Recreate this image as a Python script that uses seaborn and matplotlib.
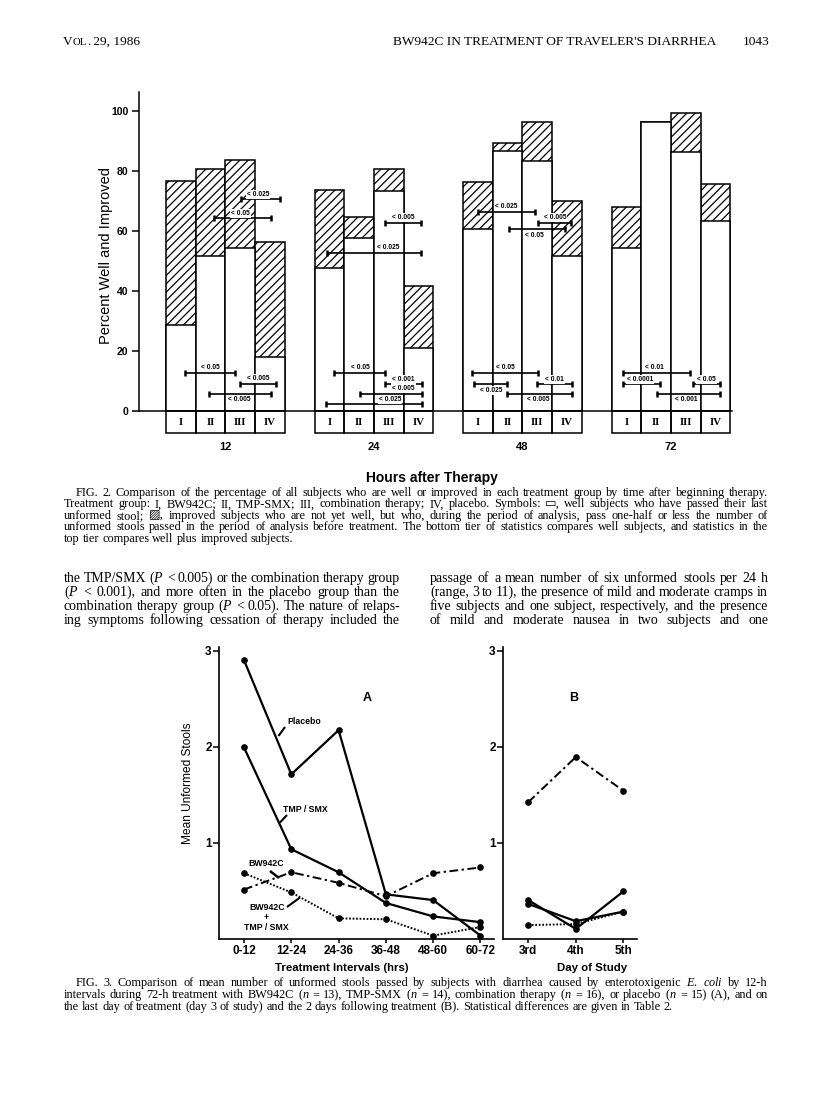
import matplotlib
matplotlib.use('Agg')
import numpy as np
import pandas as pd
import matplotlib.pyplot as plt
import seaborn as sns
from matplotlib.transforms import IdentityTransform
from matplotlib.patches import Rectangle
from matplotlib.lines import Line2D

# ---------------- data: Fig. 2 ----------------
hours = ['12', '24', '48', '72']
groups = ['I', 'II', 'III', 'IV']
well_improved_12 = [76.7, 80.5, 83.6, 56.4]
well_improved_24 = [73.8, 64.6, 80.5, 41.7]
well_improved_48 = [76.3, 89.4, 96.3, 70.0]
well_improved_72 = [67.9, 96.2, 99.4, 75.5]
well_12 = [28.6, 51.7, 54.4, 18.0]
well_24 = [47.7, 57.8, 73.3, 21.1]
well_48 = [60.6, 86.7, 83.4, 51.7]
well_72 = [54.4, 96.2, 86.2, 63.4]
pct_ticks = [0, 20, 40, 60, 80, 100]

# significance brackets: (from, to, level %, label, label position, above?)  x in bar units within group
sig_12 = [(2.02, 3.34, 70.5, '< 0.025', 2.60, True), (1.12, 3.03, 64.2, '< 0.05', 2.01, True),
          (0.13, 1.82, 12.7, '< 0.05', 0.98, True), (1.99, 3.20, 9.1, '< 0.005', 2.60, True),
          (0.94, 3.03, 5.6, '< 0.005', 1.96, False)]
sig_24 = [(1.88, 3.10, 62.7, '< 0.005', 2.49, True), (-0.07, 3.10, 52.8, '< 0.025', 1.98, True),
          (0.16, 1.89, 12.7, '< 0.05', 1.03, True), (1.89, 3.12, 8.9, '< 0.001', 2.49, True),
          (1.03, 3.12, 5.6, '< 0.005', 2.49, True), (-0.12, 3.12, 2.2, '< 0.025', 2.04, True)]
sig_48 = [(0.01, 1.92, 66.4, '< 0.025', 0.94, True), (2.03, 3.15, 62.7, '< 0.005', 2.59, True),
          (1.05, 2.95, 60.5, '< 0.05', 1.92, False), (-0.19, 2.03, 12.7, '< 0.05', 0.94, True),
          (2.00, 3.18, 8.9, '< 0.01', 2.59, True), (-0.12, 0.99, 8.9, '< 0.025', 0.44, False),
          (0.97, 3.18, 5.6, '< 0.005', 2.03, False)]
sig_72 = [(-0.11, 2.14, 12.7, '< 0.01', 0.96, True), (-0.11, 1.13, 8.9, '< 0.0001', 0.45, True),
          (2.25, 3.15, 8.9, '< 0.05', 2.70, True), (1.04, 3.15, 5.6, '< 0.001', 2.03, False)]

# ---------------- data: Fig. 3 ----------------
intervals = ['0-12', '12-24', '24-36', '36-48', '48-60', '60-72']
days = ['3rd', '4th', '5th']
placebo_A = [2.90, 1.71, 2.17, 0.46, 0.40, 0.03]
tmpsmx_A = [1.99, 0.93, 0.69, 0.37, 0.23, 0.17]
bw942c_A = [0.51, 0.69, 0.58, 0.44, 0.68, 0.74]
combo_A = [0.68, 0.48, 0.21, 0.20, 0.03, 0.12]
placebo_B = [0.40, 0.10, 0.49]
tmpsmx_B = [0.36, 0.18, 0.28]
bw942c_B = [1.42, 1.89, 1.54]
combo_B = [0.14, 0.15, 0.28]
stool_ticks = [1, 2, 3]

# ---------------- style ----------------
sns.set_theme(style='ticks')
SANS = ['Liberation Sans', 'DejaVu Sans']
SERIF = ['Liberation Serif', 'DejaVu Sans']
plt.rcParams['font.family'] = SANS
plt.rcParams.update({
    'mathtext.fontset': 'custom',
    'mathtext.rm': 'Liberation Serif',
    'mathtext.it': 'Liberation Serif:italic',
    'mathtext.bf': 'Liberation Serif:bold',
    'hatch.linewidth': 0.9,
    'hatch.color': 'black',
    'axes.edgecolor': 'black',
    'xtick.color': 'black',
    'ytick.color': 'black',
    'text.color': 'black',
})

W, H = 816, 1097
fig = plt.figure(figsize=(W / 100, H / 100), dpi=100)
fig.patch.set_facecolor('white')
IDT = IdentityTransform()


def add_ax(x0, y0, x1, y1):
    return fig.add_axes([x0 / W, 1 - y1 / H, (x1 - x0) / W, (y1 - y0) / H])


def ptext(x, y, s, **kw):
    kw.setdefault('ha', 'center')
    kw.setdefault('va', 'center')
    return fig.text(x, H - y, s, transform=IDT, **kw)


def pline(x0, y0, x1, y1, lw=1.5):
    fig.add_artist(Line2D([x0, x1], [H - y0, H - y1], transform=IDT, color='black', lw=lw,
                          solid_capstyle='butt'))


def put_line(s, x0, x1, ybase, size, justify=True, family=SERIF, weight='normal'):
    r = fig.canvas.get_renderer()
    words = s.split(' ')
    arts = [fig.text(0, 0, w, fontsize=size, family=family, weight=weight, transform=IDT,
                     ha='left', va='baseline') for w in words]
    widths = [a.get_window_extent(r).width for a in arts]
    if justify and len(words) > 1:
        gap = (x1 - x0 - sum(widths)) / (len(words) - 1)
    else:
        gap = size * 100 / 72 * 0.25
    x = x0
    for a, wd in zip(arts, widths):
        a.set_position((x, H - ybase))
        x += wd + gap


def seq_text(x, ybase, parts):
    r = fig.canvas.get_renderer()
    for s, size in parts:
        t = fig.text(x, H - ybase, s, fontsize=size, family=SERIF, transform=IDT, ha='left', va='baseline')
        x += t.get_window_extent(r).width


# ---------------- header ----------------
HDR = 9.6
seq_text(63, 45, [('V', HDR), ('OL', HDR * 0.8), ('.', HDR), (' 29, 1986', HDR)])
ptext(393, 45, "BW942C IN TREATMENT OF TRAVELER'S DIARRHEA", fontsize=HDR, family=SERIF, ha='left', va='baseline')
ptext(770, 45, '1043', fontsize=HDR, family=SERIF, ha='right', va='baseline')

# ---------------- Fig. 2 ----------------
totals = [well_improved_12, well_improved_24, well_improved_48, well_improved_72]
wells = [well_12, well_24, well_48, well_72]
sigs = [sig_12, sig_24, sig_48, sig_72]
rows = []
for g, h in enumerate(hours):
    for i, grp in enumerate(groups):
        rows.append(dict(hour=h, group=grp, pos=g * 5 + i, total=totals[g][i], well=wells[g][i]))
df2 = pd.DataFrame(rows)

PX_L, PX_T, PX_R, PX_B = 139, 92, 732, 411
PPU_Y = 3.0     # px per percent
PPU_X = 29.7    # px per bar
ax2 = add_ax(PX_L, PX_T, PX_R, PX_B)
sns.barplot(data=df2, x='pos', y='total', native_scale=True, width=1.0, color='white', saturation=1,
            edgecolor='black', linewidth=1.1, hatch='////', errorbar=None, ax=ax2)
sns.barplot(data=df2, x='pos', y='well', native_scale=True, width=1.0, color='white', saturation=1,
            edgecolor='black', linewidth=1.1, errorbar=None, ax=ax2)
x_left = -0.5 - (166 - PX_L) / PPU_X
ax2.set_xlim(x_left, x_left + (PX_R - PX_L) / PPU_X)
ax2.set_ylim(0, (PX_B - PX_T) / PPU_Y)
ax2.set_xticks([])
ax2.set_yticks(pct_ticks)
ax2.set_yticklabels([str(t) for t in pct_ticks], fontsize=7.5, fontweight='bold')
ax2.tick_params(axis='y', direction='out', length=5, width=1.1, pad=2.5)
ax2.set_xlabel('')
ax2.set_ylabel('')
for sp in ['top', 'right']:
    ax2.spines[sp].set_visible(False)
for sp in ['left', 'bottom']:
    ax2.spines[sp].set_linewidth(1.1)
ax2.set_facecolor('none')

box_h = 22.3 / PPU_Y
for r in df2.itertuples():
    ax2.add_patch(Rectangle((r.pos - 0.5, -box_h), 1, box_h, fill=False, ec='black', lw=1.1, clip_on=False))
    ax2.text(r.pos, -box_h / 2, r.group, ha='center', va='center', fontsize=7.8, fontweight='bold',
             family=SERIF, clip_on=False)
for g, h in enumerate(hours):
    ax2.text(g * 5 + 1.5, -11.9, h, ha='center', va='center', fontsize=8, fontweight='bold', clip_on=False)
    for (a, b, lev, lab, lx, above) in sigs[g]:
        ax2.plot([g * 5 + a, g * 5 + b], [lev, lev], color='black', lw=1.2, solid_capstyle='butt', zorder=5)
        for xe in (g * 5 + a, g * 5 + b):
            ax2.plot([xe, xe], [lev - 1.0, lev + 1.0], color='black', lw=1.8, solid_capstyle='butt', zorder=5)
        ly = lev + 1.75 if above else lev - 1.9
        ax2.text(g * 5 + lx, ly, lab, ha='center', va='center', fontsize=4.8, fontweight='bold', zorder=6,
                 bbox=dict(boxstyle='square,pad=0.15', fc='white', ec='none'))

ptext(106, 256, 'Percent Well and Improved', rotation=90, fontsize=10.5)
ptext(432, 478, 'Hours after Therapy', fontsize=10, fontweight='bold')

# Fig. 2 caption
CAP = 8.8
LM, RM = 64, 768
cap2 = [
    ('FIG. 2. Comparison of the percentage of all subjects who are well or improved in each treatment group by time after beginning therapy.', 76, True),
    ('Treatment group: I, BW942C; II, TMP-SMX; III, combination therapy; IV, placebo. Symbols: \u25ad, well subjects who have passed their last', LM, True),
    ('unformed stool; \u25a8, improved subjects who are not yet well, but who, during the period of analysis, pass one-half or less the number of', LM, True),
    ('unformed stools passed in the period of analysis before treatment. The bottom tier of statistics compares well subjects, and statistics in the', LM, True),
    ('top tier compares well plus improved subjects.', LM, False),
]
for k, (s, x0, just) in enumerate(cap2):
    put_line(s, x0, RM, 496 + k * 11.4, CAP, justify=just)

# body text
BODY = 10
left_col = [
    'the TMP/SMX ($P$ < 0.005) or the combination therapy group',
    '($P$ < 0.001), and more often in the placebo group than the',
    'combination therapy group ($P$ < 0.05). The nature of relaps-',
    'ing symptoms following cessation of therapy included the',
]
right_col = [
    'passage of a mean number of six unformed stools per 24 h',
    '(range, 3 to 11), the presence of mild and moderate cramps in',
    'five subjects and one subject, respectively, and the presence',
    'of mild and moderate nausea in two subjects and one',
]
for k, s in enumerate(left_col):
    put_line(s, LM, 400, 582 + k * 14, BODY)
for k, s in enumerate(right_col):
    put_line(s, 430, RM, 582 + k * 14, BODY)

# ---------------- Fig. 3 ----------------
Y0, YTOP = 938.5, 647
PPU3 = 96.0
axA = add_ax(219.3, YTOP, 494, Y0)
axB = add_ax(503.3, YTOP, 637, Y0)

xa = np.arange(len(intervals))
xb = np.arange(len(days))
solid = dict(color='black', linewidth=1.6, linestyle='-')
dashdot = dict(color='black', linewidth=1.4, linestyle=(0, (4.5, 1.8, 1.2, 1.8)))
dotted = dict(color='black', linewidth=1.4, linestyle=(0, (0.9, 0.9)))
mk = dict(marker='o', markersize=4.8, markeredgewidth=0, markeredgecolor='black', markerfacecolor='black')

for ax, x, series in [(axA, xa, [(placebo_A, solid), (tmpsmx_A, solid), (bw942c_A, dashdot), (combo_A, dotted)]),
                      (axB, xb, [(placebo_B, solid), (tmpsmx_B, solid), (bw942c_B, dashdot), (combo_B, dotted)])]:
    for yv, st in series:
        sns.lineplot(x=x, y=yv, ax=ax, estimator=None, sort=False, clip_on=False, **st, **mk)

axA.set_xlim(-0.522, -0.522 + (494 - 219.3) / 47.3)
axB.set_xlim(-0.526, -0.526 + (637 - 503.3) / 47.5)
for ax, labels in [(axA, intervals), (axB, days)]:
    ax.set_ylim(0, (Y0 - YTOP) / PPU3)
    ax.set_xticks(range(len(labels)))
    ax.set_xticklabels(labels, fontsize=8.5, fontweight='bold')
    ax.set_yticks(stool_ticks)
    ax.set_yticklabels([str(t) for t in stool_ticks], fontsize=8.5, fontweight='bold')
    ax.tick_params(axis='x', direction='out', length=3, width=1.1, pad=1.5)
    ax.tick_params(axis='y', direction='out', length=4, width=1.1, pad=1.5)
    ax.set_xlabel('')
    ax.set_ylabel('')
    for sp in ['top', 'right']:
        ax.spines[sp].set_visible(False)
    for sp in ['left', 'bottom']:
        ax.spines[sp].set_linewidth(1.2)
    ax.set_facecolor('none')

ptext(367, 698, 'A', fontsize=9, fontweight='bold')
ptext(574, 698, 'B', fontsize=9, fontweight='bold')

# series labels
LBL = 6.3
ptext(287, 722, 'Placebo', fontsize=LBL, fontweight='bold', ha='left')
pline(285, 727, 278.5, 736)
ptext(283, 809, 'TMP / SMX', fontsize=LBL, fontweight='bold', ha='left')
pline(287, 815, 280, 822.5)
ptext(266, 863, 'BW942C', fontsize=LBL, fontweight='bold')
pline(270, 871, 279, 878, lw=1.8)
ptext(267, 908, 'BW942C', fontsize=LBL, fontweight='bold')
ptext(266, 917.5, '+', fontsize=LBL, fontweight='bold')
ptext(266, 928, 'TMP / SMX', fontsize=LBL, fontweight='bold')
pline(287, 907, 300, 897.5)

ptext(188, 783, 'Mean Unformed Stools', rotation=90, fontsize=8.6)
ptext(342, 968, 'Treatment Intervals (hrs)', fontsize=8.2, fontweight='bold')
ptext(592, 968, 'Day of Study', fontsize=8.2, fontweight='bold')

cap3 = [
    ('FIG. 3. Comparison of mean number of unformed stools passed by subjects with diarrhea caused by enterotoxigenic $E.$ $coli$ by 12-h', 76, True),
    ('intervals during 72-h treatment with BW942C ($n$ = 13), TMP-SMX ($n$ = 14), combination therapy ($n$ = 16), or placebo ($n$ = 15) (A), and on', LM, True),
    ('the last day of treatment (day 3 of study) and the 2 days following treatment (B). Statistical differences are given in Table 2.', LM, False),
]
for k, (s, x0, just) in enumerate(cap3):
    put_line(s, x0, RM, 986 + k * 12, CAP, justify=just)

fig.savefig('out.png', dpi=100, facecolor='white')
